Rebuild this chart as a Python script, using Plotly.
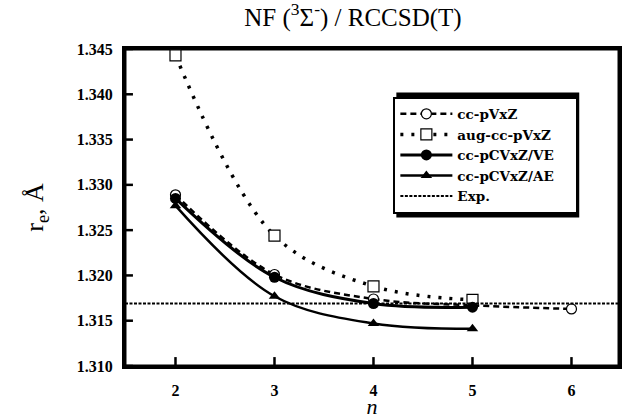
import plotly.graph_objects as go

# ---- data ----
n_ccpv = [2, 3, 4, 5, 6]
re_ccpv = [1.3289, 1.3201, 1.3174, 1.3167, 1.3163]

n_aug = [2, 3, 4, 5]
re_aug = [1.3443, 1.3244, 1.3188, 1.3173]

n_ve = [2, 3, 4, 5]
re_ve = [1.3285, 1.3198, 1.3169, 1.3165]

n_ae = [2, 3, 4, 5]
re_ae = [1.3277, 1.3177, 1.3147, 1.3141]

re_exp = 1.3169
x_range = [1.49, 6.48]
y_range = [1.310, 1.345]
x_ticks = [2, 3, 4, 5, 6]
y_ticks = [1.310, 1.315, 1.320, 1.325, 1.330, 1.335, 1.340, 1.345]

FONT = "Liberation Serif"
LFONT = "DejaVu Serif"
PAD = "\u00a0" * 4

fig = go.Figure()

fig.add_trace(go.Scatter(
    x=n_ccpv, y=re_ccpv, name="<b>cc-pVxZ</b>", mode="lines+markers",
    line=dict(color="black", width=2.5, dash="6px,4px", shape="spline"),
    marker=dict(symbol="circle", size=10, color="white", line=dict(color="black", width=1.2)),
))
fig.add_trace(go.Scatter(
    x=n_aug, y=re_aug, name="<b>aug-cc-pVxZ</b>", mode="lines+markers",
    line=dict(color="black", width=3.5, dash="3px,8px", shape="spline"),
    marker=dict(symbol="square", size=11, color="white", line=dict(color="black", width=1.2)),
))
fig.add_trace(go.Scatter(
    x=n_ve, y=re_ve, name="<b>cc-pCVxZ/VE</b>", mode="lines+markers",
    line=dict(color="black", width=3, shape="spline"),
    marker=dict(symbol="circle", size=11, color="black"),
))
fig.add_trace(go.Scatter(
    x=n_ae, y=re_ae, name="<b>cc-pCVxZ/AE</b>" + PAD, mode="lines+markers",
    line=dict(color="black", width=2.5, shape="spline"),
    marker=dict(symbol="triangle-up", size=10, color="black"),
))
fig.add_trace(go.Scatter(
    x=x_range, y=[re_exp, re_exp], name="<b>Exp.</b>", mode="lines",
    line=dict(color="black", width=2, dash="3px,1.5px"),
))

PW, PH = 497.0, 320.0
px = lambda p: (p - 125) / PW
py = lambda p: (369 - p) / PH
T = 1.5  # half frame thickness in px

shapes = [
    # frame: black block slightly larger than the plot area, white block inside
    dict(type="rect", xref="paper", yref="paper",
         x0=-T / PW, x1=1 + T / PW, y0=-T / PH, y1=1 + T / PH,
         fillcolor="black", line=dict(width=0), layer="below"),
    dict(type="rect", xref="paper", yref="paper",
         x0=T / PW, x1=1 - T / PW, y0=T / PH, y1=1 - T / PH,
         fillcolor="white", line=dict(width=0), layer="below"),
]
# inside tick marks
for v in x_ticks:
    shapes.append(dict(type="line", xref="x", yref="paper", x0=v, x1=v,
                       y0=0, y1=9 / PH, line=dict(color="black", width=2.5), layer="below"))
for v in y_ticks:
    shapes.append(dict(type="line", xref="paper", yref="y", y0=v, y1=v,
                       x0=0, x1=8 / PW, line=dict(color="black", width=2.5), layer="below"))
# legend drop shadow
shapes.append(dict(type="rect", xref="paper", yref="paper",
                   x0=px(398), x1=px(582), y0=py(219), y1=py(93),
                   fillcolor="black", line=dict(width=0), layer="above"))

fig.update_layout(
    xaxis=dict(
        range=x_range, tickmode="array", tickvals=x_ticks,
        ticktext=[f"<b>{v}</b>" for v in x_ticks],
        showgrid=False, zeroline=False,
        showline=True, linecolor="black", linewidth=3, mirror=True,
        ticks="outside", ticklen=8, tickcolor="rgba(0,0,0,0)",
        tickfont=dict(family=FONT, size=16, color="black"),
        title=dict(text="<i>n</i>", font=dict(family=FONT, size=22, color="black"), standoff=0),
    ),
    yaxis=dict(
        range=y_range, tickmode="array", tickvals=y_ticks,
        ticktext=[f"<b>{v:.3f}</b>" for v in y_ticks],
        showgrid=False, zeroline=False,
        showline=True, linecolor="black", linewidth=3, mirror=True,
        ticks="outside", ticklen=6, tickcolor="rgba(0,0,0,0)",
        tickfont=dict(family=FONT, size=16, color="black"),
        title=dict(text="r<sub>e</sub>, Å", font=dict(family=FONT, size=26, color="black"), standoff=26),
    ),
    shapes=shapes,
    width=626, height=419,
    margin=dict(l=125, r=4, t=49, b=50),
    paper_bgcolor="white", plot_bgcolor="rgba(0,0,0,0)",
    title=dict(text="NF (<sup>3</sup>Σ<sup>-</sup>) / RCCSD(T)", x=353 / 626.0, xref="container",
               xanchor="center", y=0.96, yanchor="middle",
               font=dict(family=FONT, size=25, color="black")),
    font=dict(family=FONT, color="black"),
    legend=dict(
        x=px(395), y=py(97), xanchor="left", yanchor="top",
        bgcolor="white", bordercolor="black", borderwidth=2,
        font=dict(family=LFONT, size=13.5, color="black"),
        itemwidth=52, tracegroupgap=0,
    ),
    showlegend=True,
)

fig.write_html("out.html", config={"displayModeBar": False})
with open("out.html", encoding="utf-8") as f:
    html = f.read()
html = html.replace("<body>", '<body style="margin:0;padding:0">', 1)
with open("out.html", "w", encoding="utf-8") as f:
    f.write(html)
